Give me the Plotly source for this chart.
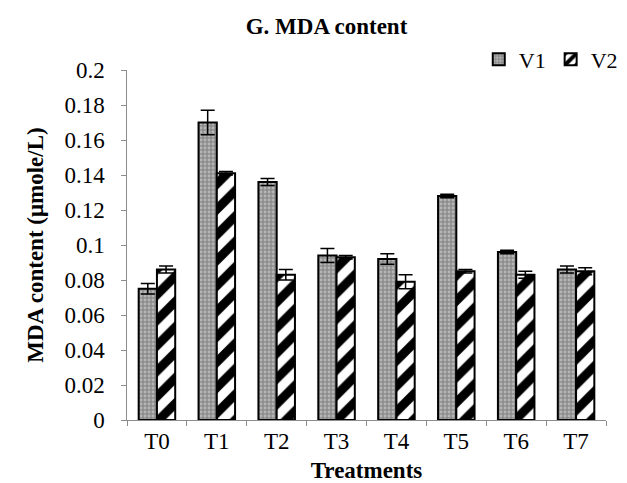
import plotly.graph_objects as go

categories = ["T0", "T1", "T2", "T3", "T4", "T5", "T6", "T7"]
v1_values = [0.075, 0.170, 0.136, 0.094, 0.092, 0.128, 0.096, 0.086]
v1_errors = [0.003, 0.007, 0.002, 0.004, 0.003, 0.001, 0.001, 0.002]
v2_values = [0.086, 0.141, 0.083, 0.093, 0.079, 0.085, 0.083, 0.085]
v2_errors = [0.002, 0.001, 0.003, 0.001, 0.004, 0.001, 0.002, 0.002]
y_ticks = [0, 0.02, 0.04, 0.06, 0.08, 0.1, 0.12, 0.14, 0.16, 0.18, 0.2]
y_tick_labels = ["0", "0.02", "0.04", "0.06", "0.08", "0.1", "0.12", "0.14", "0.16", "0.18", "0.2"]

FONT = "Liberation Serif, Times New Roman, serif"
PAD = "\u00a0\u00a0"

fig = go.Figure()
fig.add_trace(go.Bar(
    name="V1", x=categories, y=v1_values,
    error_y=dict(type="data", array=v1_errors, color="black", thickness=1.5, width=7),
    marker=dict(color="#8c8c8c", line=dict(color="black", width=2),
                pattern=dict(shape=".", fgcolor="#e0e0e0", bgcolor="#8c8c8c", size=4, solidity=0.4)),
))
fig.add_trace(go.Bar(
    name="V2", x=categories, y=v2_values,
    error_y=dict(type="data", array=v2_errors, color="black", thickness=1.5, width=7),
    marker=dict(color="white", line=dict(color="black", width=2),
                pattern=dict(shape="/", fgcolor="black", fgopacity=1, bgcolor="white", size=18, solidity=0.5)),
))

fig.update_layout(
    width=627, height=483,
    margin=dict(l=119, r=16, t=62, b=71),
    paper_bgcolor="white", plot_bgcolor="white",
    barmode="group", bargap=0.39, bargroupgap=0,
    font=dict(family=FONT, color="black", size=23),
    title=dict(text="<b>G. MDA content</b>", x=0.508, xanchor="center", y=0.962, yanchor="middle",
               font=dict(family=FONT, size=23, color="black")),
    showlegend=True,
    legend=dict(orientation="h", x=1.035, xanchor="right", y=1.09, yanchor="top",
                font=dict(family=FONT, size=22), bgcolor="rgba(0,0,0,0)",
                itemwidth=30, tracegroupgap=0),
    xaxis=dict(
        title=dict(text="<b>Treatments</b>", font=dict(family=FONT, size=23), standoff=9),
        showline=True, linecolor="#8c8c8c", linewidth=1.2,
        ticks="outside", tickson="boundaries", ticklen=5, tickcolor="#8c8c8c",
        tickfont=dict(family=FONT, size=23), showgrid=False,
    ),
    yaxis=dict(
        title=dict(text="<b>MDA content (μmole/L)</b>", font=dict(family=FONT, size=23), standoff=14),
        range=[0, 0.2], tickvals=y_ticks, ticktext=[t + PAD for t in y_tick_labels],
        showline=True, linecolor="#8c8c8c", linewidth=1.2,
        ticks="outside", ticklen=5, tickcolor="#8c8c8c",
        tickfont=dict(family=FONT, size=23), showgrid=False, zeroline=False,
    ),
)

fig.write_html("out.html")
